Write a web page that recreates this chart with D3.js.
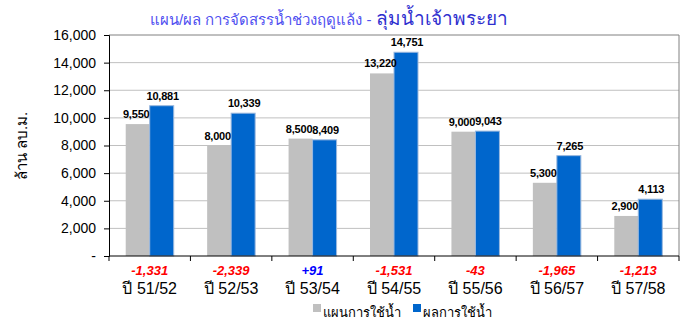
<!DOCTYPE html>
<html>
<head>
<meta charset="utf-8">
<script src="https://cdn.jsdelivr.net/npm/d3@7"></script>
<style>
  body { margin: 0; background: #fff; }
  text { font-family: Arial, "Liberation Sans", sans-serif; }
</style>
</head>
<body>
<div id="graph"></div>
<script>
// data
const years = ["ปี 51/52", "ปี 52/53", "ปี 53/54", "ปี 54/55", "ปี 55/56", "ปี 56/57", "ปี 57/58"];
const plan = [9550, 8000, 8500, 13220, 9000, 5300, 2900];
const actual = [10881, 10339, 8409, 14751, 9043, 7265, 4113];
const diff = ["-1,331", "-2,339", "+91", "-1,531", "-43", "-1,965", "-1,213"];
const yTicks = [0, 2000, 4000, 6000, 8000, 10000, 12000, 14000, 16000];
const seriesNames = ["แผนการใช้น้ำ", "ผลการใช้น้ำ"];
const seriesColors = ["#c0c0c0", "#0066cc"];

let width = 690, height = 326;
let margin = {top: 35, right: 11, bottom: 70, left: 109};

let svg = d3.select("#graph")
  .append("svg")
  .attr("width", width)
  .attr("height", height);

let x = d3.scaleBand()
  .domain(years)
  .range([margin.left, width - margin.right]);

let y = d3.scaleLinear()
  .domain([0, 16000])
  .range([height - margin.bottom, margin.top]);

let fmt = d3.format(",");
let barW = 24;

// gridlines
svg.append("g")
  .selectAll("line")
  .data(yTicks.slice(1, -1))
  .join("line")
  .attr("x1", margin.left)
  .attr("x2", width - margin.right)
  .attr("y1", d => y(d))
  .attr("y2", d => y(d))
  .attr("stroke", "#c0c0c0");

// plot border top/right
svg.append("path")
  .attr("d", `M${margin.left},${y(16000)}H${width - margin.right}V${y(0)}`)
  .attr("fill", "none")
  .attr("stroke", "#808080");

// bars
let groups = svg.append("g")
  .selectAll("g")
  .data(years.map((yr, i) => ({yr, vals: [plan[i], actual[i]]})))
  .join("g")
  .attr("transform", d => `translate(${x(d.yr) + x.bandwidth() / 2},0)`);

groups.selectAll("rect")
  .data(d => d.vals)
  .join("rect")
  .attr("x", (d, j) => j === 0 ? -barW : 0)
  .attr("width", barW)
  .attr("y", d => y(d))
  .attr("height", d => y(0) - y(d))
  .attr("fill", (d, j) => seriesColors[j])
  .attr("stroke", (d, j) => j === 1 ? "#9ab8de" : "none")
  .attr("stroke-width", 1);

groups.selectAll("text.val")
  .data(d => d.vals)
  .join("text")
  .attr("class", "val")
  .attr("x", (d, j) => j === 0 ? -barW / 2 - 1.5 : barW / 2 + 1)
  .attr("y", d => y(d) - 6)
  .attr("text-anchor", "middle")
  .attr("font-size", "11px")
  .attr("font-weight", "bold")
  .attr("letter-spacing", "-0.2px")
  .text(d => fmt(d));

// y axis
let yAxis = d3.axisLeft(y)
  .tickValues(yTicks)
  .tickSize(5)
  .tickPadding(8)
  .tickFormat(d => d === 0 ? "-" : fmt(d));

svg.append("g")
  .attr("transform", `translate(${margin.left},0)`)
  .call(yAxis)
  .call(g => g.selectAll("text").attr("font-size", "14px").attr("font-family", "Arial, 'Liberation Sans', sans-serif"));

// x axis
let xAxisG = svg.append("g")
  .attr("transform", `translate(0,${y(0)})`);
xAxisG.append("line")
  .attr("x1", margin.left).attr("x2", width - margin.right)
  .attr("stroke", "#000");
xAxisG.selectAll("line.tick")
  .data(years.map(d => x(d)).concat([width - margin.right]))
  .join("line")
  .attr("class", "tick")
  .attr("x1", d => d).attr("x2", d => d)
  .attr("y1", 0).attr("y2", 5)
  .attr("stroke", "#000");

// difference labels
svg.append("g")
  .selectAll("text")
  .data(diff)
  .join("text")
  .attr("x", (d, i) => x(years[i]) + x.bandwidth() / 2)
  .attr("y", y(0) + 19)
  .attr("text-anchor", "middle")
  .attr("font-size", "13px")
  .attr("font-weight", "bold")
  .attr("font-style", "italic")
  .attr("fill", d => d.startsWith("+") ? "#0000ff" : "#ff0000")
  .text(d => d);

// category labels
svg.append("g")
  .selectAll("text")
  .data(years)
  .join("text")
  .attr("x", d => x(d) + x.bandwidth() / 2)
  .attr("y", y(0) + 38)
  .attr("text-anchor", "middle")
  .attr("font-size", "16px")
  .text(d => d);

// y axis title
svg.append("text")
  .attr("transform", "translate(27,146) rotate(-90)")
  .attr("text-anchor", "middle")
  .attr("font-size", "15px")
  .text("ล้าน ลบ.ม.");

// title
let title = svg.append("text")
  .attr("x", 150)
  .attr("y", 25);
title.append("tspan")
  .attr("fill", "#5050f0")
  .attr("font-size", "15px")
  .text("แผน/ผล การจัดสรรน้ำช่วงฤดูแล้ง - ");
title.append("tspan")
  .attr("fill", "#2f2fcf")
  .attr("font-size", "19px")
  .text("ลุ่มน้ำเจ้าพระยา");

// legend
let legend = svg.append("g")
  .selectAll("g")
  .data(seriesNames)
  .join("g")
  .attr("transform", (d, i) => `translate(${313 + i * 100},304)`);
legend.append("rect")
  .attr("width", 8).attr("height", 8)
  .attr("fill", (d, i) => seriesColors[i]);
legend.append("text")
  .attr("x", 10)
  .attr("y", 13)
  .attr("font-size", "13px")
  .text(d => d);
</script>
</body>
</html>
